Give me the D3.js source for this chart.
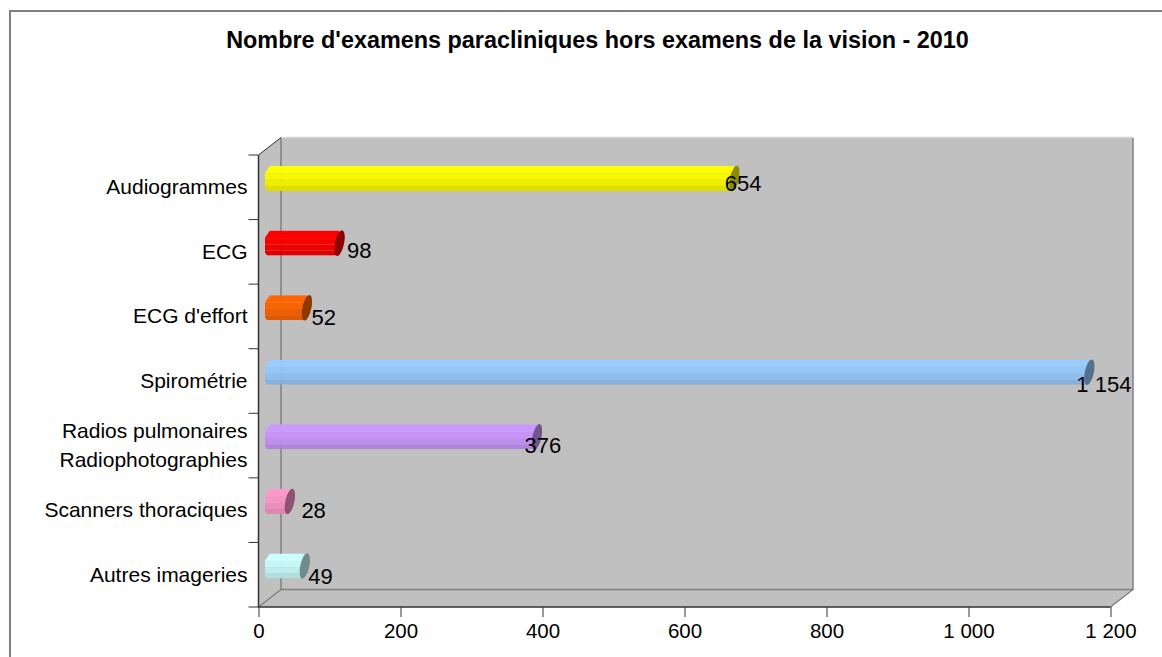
<!DOCTYPE html>
<html>
<head>
<meta charset="utf-8">
<script src="https://cdn.jsdelivr.net/npm/d3@7"></script>
<style>
  html, body { margin: 0; padding: 0; background: #fff; }
  svg { display: block; }
  text { font-family: "Liberation Sans", Arial, sans-serif; fill: #000; }
  .axis path { display: none; }
  .axis line { stroke: #333; }
</style>
</head>
<body>
<svg id="chart" width="1162" height="657"></svg>
<script>
var titleText = "Nombre d'examens paracliniques hors examens de la vision - 2010";
var categories = ["Audiogrammes", "ECG", "ECG d'effort", "Spirométrie", "Radios pulmonaires|Radiophotographies", "Scanners thoraciques", "Autres imageries"];
var values = [654, 98, 52, 1154, 376, 28, 49];
var barColors = ["#ffff00", "#ff0000", "#ff6600", "#99ccff", "#cc99ff", "#ff99cc", "#ccffff"];
var xTicks = [0, 200, 400, 600, 800, 1000, 1200];

var svg = d3.select("#chart");

var left = 258.5, right = 1110.5, top_ = 155, bottom = 607;
var depthX = 22.5, depthY = 17.5;

// excel puts each data label by hand, so these are just
var labelNudge = [2, 19, 16, -1.5, -1, 23, 15];
var labelNudgeY = [3.5, 6.5, 8.5, 10.5, 7.5, 7.5, 9.5];
var facets = [[0, 0.3, 1], [0.3, 0.55, 0.97], [0.55, 0.8, 0.93], [0.8, 1, 0.87]];

var xScale = d3.scaleLinear().domain([0, 1200]).range([left, right]);
var yScale = d3.scaleBand().domain(categories).range([top_, bottom]);

function shade(c, k) {
  var r = d3.rgb(c);
  return d3.rgb(r.r * k, r.g * k, r.b * k).formatHex();
}
function spaced(d) {
  return d3.format(",")(d).replace(/,/g, " ");
}

// chart frame, open on the right and at the bottom
svg.append("path")
  .attr("d", "M10,657V11H1162")
  .attr("fill", "none")
  .attr("stroke", "#808080")
  .attr("stroke-width", 2);

svg.append("text")
  .attr("x", 597.5)
  .attr("y", 48)
  .attr("text-anchor", "middle")
  .attr("font-weight", "bold")
  .style("font-size", "23.4px")
  .text(titleText);

// walls and floor
svg.append("path")
  .attr("d", "M" + left + "," + top_ + "L" + (left + depthX) + "," + (top_ - depthY) +
    "H" + (right + depthX) + "V" + (bottom - depthY) + "L" + right + "," + bottom + "H" + left + "Z")
  .attr("fill", "#c0c0c0");

var wall = svg.append("g").attr("fill", "none").attr("stroke", "#808080").attr("stroke-width", 1.5);
wall.append("path").attr("d", "M" + (left + depthX) + "," + (top_ - depthY) + "V" + (bottom - depthY) + "H" + (right + depthX) + "V" + (top_ - depthY));
wall.append("path").attr("d", "M" + left + "," + bottom + "L" + (left + depthX) + "," + (bottom - depthY));
wall.append("path").attr("d", "M" + right + "," + bottom + "L" + (right + depthX) + "," + (bottom - depthY));
svg.append("path")
  .attr("d", "M" + (left + depthX) + "," + (top_ - depthY) + "H" + (right + depthX))
  .attr("stroke", "#d4d4d4").attr("stroke-width", 1.5);
svg.append("path")
  .attr("d", "M" + left + "," + top_ + "L" + (left + depthX) + "," + (top_ - depthY))
  .attr("stroke", "#333");

// bars
var barH = 25, midX = 11.5, midY = depthY / 2, capRx = 4.5, chamfer = 5;
var defs = svg.append("defs");
var bars = svg.selectAll(".bar")
  .data(categories)
  .enter().append("g")
  .attr("class", "bar");

bars.each(function(d, i) {
  var g = d3.select(this),
    yc = yScale(d) + yScale.bandwidth() / 2 - midY,
    y0 = yc - barH / 2,
    x0 = left + midX,
    x1 = xScale(values[i]) + midX,
    body = "M" + x0 + "," + y0 + "H" + x1 + "V" + (y0 + barH) + "H" + (x0 - chamfer + 2) +
      "L" + (x0 - chamfer) + "," + (y0 + barH - 3) + "V" + (y0 + 7) + "Z";
  defs.append("clipPath").attr("id", "bar-clip-" + i).append("path").attr("d", body);
  g.selectAll("rect")
    .data(facets)
    .enter().append("rect")
    .attr("clip-path", "url(#bar-clip-" + i + ")")
    .attr("x", x0 - chamfer)
    .attr("y", function(f) { return y0 + f[0] * barH; })
    .attr("width", x1 - x0 + chamfer)
    .attr("height", function(f) { return (f[1] - f[0]) * barH; })
    .attr("fill", function(f) { return shade(barColors[i], f[2]); });
  g.append("ellipse")
    .attr("transform", "translate(" + x1 + "," + yc + ") rotate(12)")
    .attr("rx", capRx)
    .attr("ry", barH / 2 + 0.5)
    .attr("fill", shade(barColors[i], 0.55));
});

// axes
var xAxis = svg.append("g")
  .attr("class", "axis")
  .attr("transform", "translate(0," + bottom + ")")
  .call(d3.axisBottom(xScale).tickValues(xTicks).tickSize(10).tickPadding(3).tickFormat(spaced));
xAxis.selectAll("text").style("font-size", "20.5px").attr("dy", "0.9em");

var yAxis = svg.append("g")
  .attr("class", "axis")
  .attr("transform", "translate(" + left + ",0)")
  .call(d3.axisLeft(yScale).tickSize(0).tickPadding(11).tickFormat(""));

yAxis.selectAll(".tick text").each(function(d) {
  var lines = d.split("|"), t = d3.select(this);
  t.text(null).attr("dy", null).style("font-size", "21px");
  lines.forEach(function(l, k) {
    t.append("tspan")
      .attr("x", -11)
      .attr("y", (k - (lines.length - 1) / 2) * 29 + 7)
      .text(l);
  });
});

yAxis.selectAll(".edge")
  .data(d3.range(categories.length + 1))
  .enter().append("line")
  .attr("class", "edge")
  .attr("x1", -10)
  .attr("x2", 0)
  .attr("y1", function(k) { return top_ + k * yScale.step(); })
  .attr("y2", function(k) { return top_ + k * yScale.step(); });

svg.append("path")
  .attr("d", "M" + left + "," + top_ + "V" + bottom + "H" + right)
  .attr("fill", "none")
  .attr("stroke", "#333")
  .attr("stroke-width", 1.5);

// data labels
svg.selectAll(".val")
  .data(values)
  .enter().append("text")
  .attr("class", "val")
  .attr("x", function(d, i) { return xScale(d) + labelNudge[i]; })
  .attr("y", function(d, i) { return yScale(categories[i]) + yScale.bandwidth() / 2 + labelNudgeY[i]; })
  .style("font-size", "22px")
  .text(spaced);
</script>
</body>
</html>
